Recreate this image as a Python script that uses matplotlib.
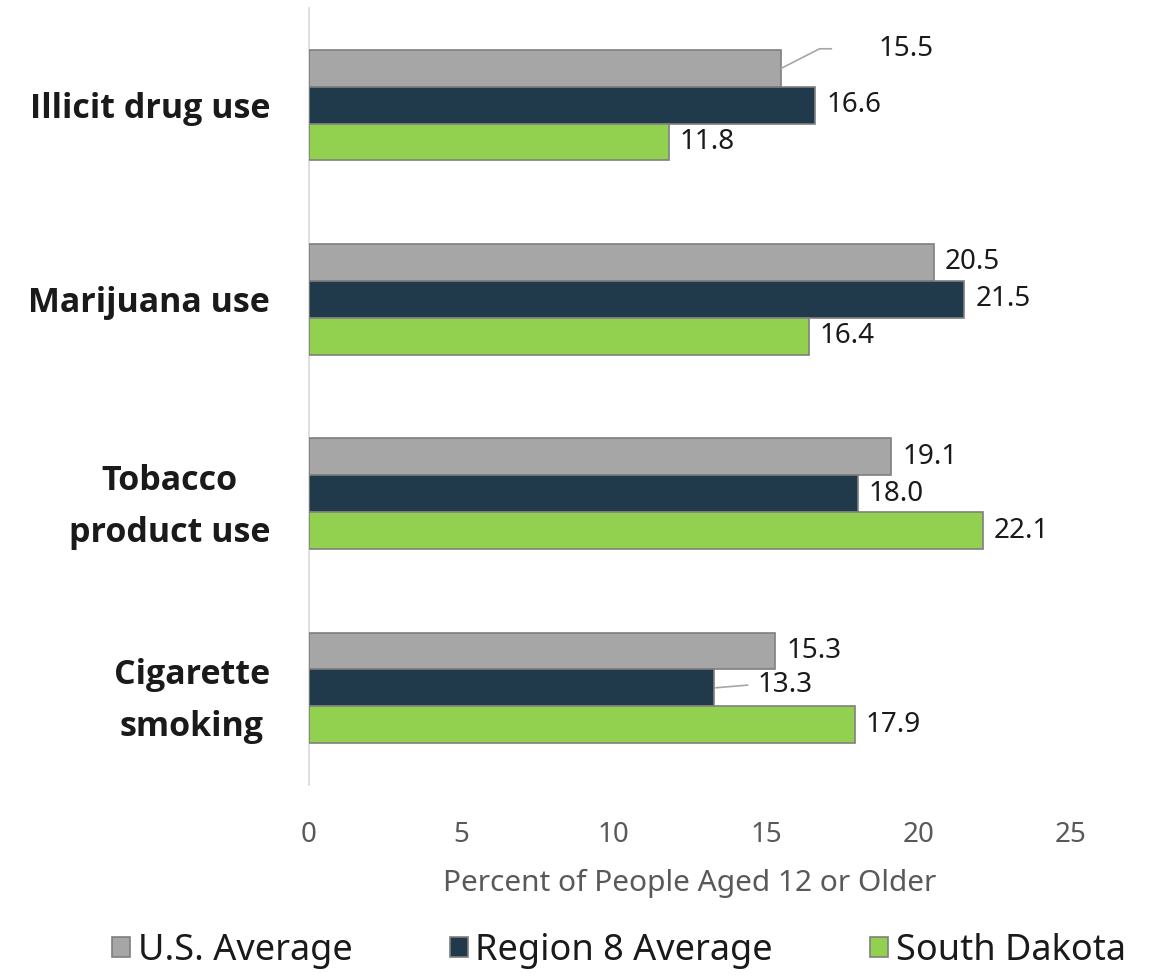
import matplotlib.pyplot as plt
import numpy as np

categories = ['Illicit drug use', 'Marijuana use', 'Tobacco\nproduct use', 'Cigarette\nsmoking']
series_names = ['U.S. Average', 'Region 8 Average', 'South Dakota']
us_avg = [15.5, 20.5, 19.1, 15.3]
region8_avg = [16.6, 21.5, 18.0, 13.3]
south_dakota = [11.8, 16.4, 22.1, 17.9]
x_ticks = [0, 5, 10, 15, 20, 25]

colors = ['#A6A6A6', '#203A4C', '#92D050']
plt.rcParams['font.family'] = ['Noto Sans', 'DejaVu Sans']

fig = plt.figure(figsize=(11.57, 9.77), dpi=100)
ax = fig.add_axes([0.267, 0.1965, 0.6587, 0.7953])

y = np.arange(len(categories))
h = 0.19
offsets = [-h, 0, h]
all_series = [us_avg, region8_avg, south_dakota]

bars = []
for s, (vals, off) in enumerate(zip(all_series, offsets)):
    b = ax.barh(y + off, vals, height=h, color=colors[s], edgecolor='#7F7F7F',
                linewidth=1.2, label=series_names[s], zorder=3)
    bars.append(b)

# data labels; two of them are pushed away with a leader line
leaders = {(0, 0): (70, 14), (1, 3): (31, 2)}
lab_kw = dict(textcoords='offset points', va='center', ha='left', fontsize=20, color='#1a1a1a')
for s, (vals, off) in enumerate(zip(all_series, offsets)):
    for i, v in enumerate(vals):
        yy = y[i] + off
        if (s, i) in leaders:
            dx, dy = leaders[(s, i)]
            if s == 0:
                ax.annotate('', xy=(v, yy), xytext=(36, dy), textcoords='offset points',
                            arrowprops=dict(arrowstyle='-', color='#A6A6A6', lw=1.2,
                                            shrinkA=0, shrinkB=0,
                                            connectionstyle='angle,angleA=0,angleB=27,rad=0'))
            else:
                ax.annotate('', xy=(v, yy), xytext=(24, dy), textcoords='offset points',
                            arrowprops=dict(arrowstyle='-', color='#A6A6A6', lw=1.2,
                                            shrinkA=0, shrinkB=1))
            ax.annotate(f'{v:.1f}', xy=(v, yy), xytext=(dx, dy), **lab_kw)
        else:
            ax.annotate(f'{v:.1f}', xy=(v, yy), xytext=(8, 0), **lab_kw)

ax.set_xlim(0, 25)
ax.set_ylim(len(categories) - 0.5, -0.5)
ax.set_xticks(x_ticks)
ax.set_yticks(y)
ax.set_yticklabels(categories)
for lbl in ax.get_yticklabels():
    lbl.set_multialignment('center')
    lbl.set_family(['Open Sans', 'DejaVu Sans'])
    lbl.set_fontweight('bold')
    lbl.set_fontsize(24.5)
    lbl.set_linespacing(1.7)
    lbl.set_color('#1a1a1a')
ax.tick_params(axis='y', length=0, pad=28)
ax.tick_params(axis='x', length=0, pad=26, labelsize=20, labelcolor='#595959')
ax.set_xlabel('Percent of People Aged 12 or Older', fontsize=21.5, color='#595959', labelpad=14)

for sp in ['top', 'right', 'bottom']:
    ax.spines[sp].set_visible(False)
ax.spines['left'].set_color('#D9D9D9')
ax.spines['left'].set_linewidth(1.2)

fig.legend(handles=bars, labels=series_names, loc='center', bbox_to_anchor=(0.535, 0.027),
           ncol=3, frameon=False, fontsize=26, handlelength=0.5, handleheight=0.5,
           handletextpad=0.2, columnspacing=2.7, labelcolor='#1a1a1a')

fig.savefig('out.png', dpi=100)
